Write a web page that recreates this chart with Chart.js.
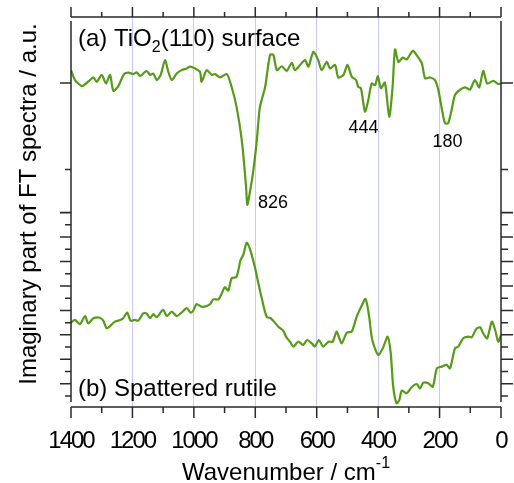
<!DOCTYPE html>
<html>
<head>
<meta charset="utf-8">
<script src="https://cdn.jsdelivr.net/npm/chart.js@4"></script>
<style>
  html, body { margin: 0; padding: 0; background: #fff; }
</style>
</head>
<body>
<canvas id="chart" width="514" height="483"></canvas>
<script>
// (a) TiO2(110) surface - wavenumber / value (a.u., 0 = baseline)
const waveA = [1400,1387,1365,1351,1338,1327,1316,1300,1286,1273,1262,1246,1227,1213,1197,1186,1175,1154,1143,1132,
  1121,1108,1094,1083,1072,1056,1040,1023,1013,996,980,975,958,942,931,915,893,877,861,844,
  830,826,817,806,795,785,768,752,741,730,714,698,681,671,654,638,627,611,595,584,
  567,557,540,530,513,500,486,472,465,456,443,432,421,410,401,391,378,364,353,345,
  334,320,307,287,275,258,247,231,215,204,190,182,172,161,150,134,117,101,85,71,
  58,45,25,9,0];
const valA = [0.30,0.07,-0.07,-0.01,0.07,0.13,0.03,0.19,-0.01,0.19,-0.18,-0.07,0.21,0.24,0.21,0.25,0.16,0.28,0.19,0.22,
  0.07,0.19,0.53,0.26,0.07,0.22,0.30,0.34,0.38,0.34,0.26,0.03,0.30,0.19,0.21,0.13,0.21,-0.09,-0.55,-1.32,
  -2.40,-2.82,-2.50,-2.01,-1.32,-0.56,-0.09,0.65,0.65,0.30,0.39,0.28,0.47,0.30,0.42,0.53,0.38,0.72,0.53,0.30,
  0.49,0.34,0.42,0.13,0.19,0.42,0.15,0.07,-0.09,-0.12,-0.66,-0.39,-0.01,-0.05,0.16,-0.12,0.01,-0.78,-0.09,0.78,
  0.49,0.59,0.55,0.75,0.65,0.46,0.11,0.13,0.07,-0.16,-0.70,-0.93,-0.93,-0.63,-0.28,-0.16,-0.10,-0.15,0.07,-0.10,
  0.28,-0.01,0.05,-0.02,-0.01];

// (b) Spattered rutile
const waveB = [1400,1387,1371,1354,1344,1327,1306,1295,1284,1273,1257,1240,1230,1217,1206,1192,1181,1165,1154,1143,
  1132,1121,1100,1088,1072,1056,1040,1023,1010,1002,991,975,958,947,937,920,909,899,888,877,
  861,848,839,828,817,801,790,779,763,750,736,725,709,700,687,676,660,644,631,616,
  606,593,579,562,548,535,519,502,486,470,454,441,430,419,400,385,369,359,351,340,
  331,323,307,291,274,264,253,237,222,209,193,177,166,150,139,123,106,95,81,68,
  58,45,30,19,9,0];
const valB = [3.50,3.61,3.44,3.77,3.47,3.68,3.70,3.58,3.27,3.36,3.54,3.61,3.68,3.91,3.58,3.61,3.58,3.88,3.88,3.68,
  3.85,3.72,4.02,3.77,3.95,3.77,3.91,4.09,3.91,3.99,4.26,4.15,4.18,4.26,4.45,4.45,4.70,4.95,4.81,5.31,
  5.38,6.06,6.27,6.77,6.50,5.75,5.11,4.50,3.74,3.68,3.50,3.33,3.17,2.93,2.72,2.52,2.72,2.59,2.79,2.65,
  2.52,2.79,2.52,2.72,2.72,3.13,2.65,3.09,3.13,3.74,4.18,4.47,3.81,2.79,2.18,2.45,2.93,2.25,0.88,0.20,
  0.34,0.72,0.61,0.86,0.99,0.81,1.04,1.02,0.88,1.63,1.70,1.77,1.63,2.45,2.52,2.86,2.93,2.90,3.23,3.31,
  3.06,2.86,3.54,3.20,2.72,2.99];

// axis ticks
const xMajorTicks = [0, 200, 400, 600, 800, 1000, 1200, 1400];
const xMinorTicks = [100, 300, 500, 700, 900, 1100, 1300];
const yAMajorTicks = [0, -3];
const yAMinorTicks = [-2];
const yBMajorTicks = [1, 2, 3, 4, 5, 6, 7, 8];
const yBMinorTicks = [0.5, 1.5, 2.5, 3.5, 4.5, 5.5, 6.5, 7.5];

// peak labels (placed on spectrum a)
const peakLabels = [
  { text: '826', x: 791, y: -2.89, align: 'left' },
  { text: '444', x: 448, y: -1.16, align: 'center' },
  { text: '180', x: 174, y: -1.48, align: 'center' }
];

const lineColor = '#559b17';
const axisColor = '#2a2a2a';
const gridColor = 'rgb(200, 200, 250)';
const fontFamily = '"Liberation Sans", Arial, sans-serif';
const yTitle = 'Imaginary part of FT spectra / a.u.';

const framePlugin = {
  id: 'frame',
  beforeDraw(chart) {
    // tick digits in the original are tightly set
    chart.ctx.letterSpacing = '-2px';
  },
  beforeDatasetsDraw(chart) {
    chart.ctx.letterSpacing = '0px';
  },
  afterDraw(chart) {
    const { ctx, chartArea: a, scales } = chart;
    const x = scales.x, yA = scales.yA, yB = scales.yB;
    ctx.save();
    ctx.letterSpacing = '0px';
    ctx.strokeStyle = axisColor;
    ctx.lineWidth = 1.5;
    ctx.beginPath();
    // frame - side axes stop a little short of the corners
    ctx.moveTo(a.left, a.top); ctx.lineTo(a.right, a.top);
    ctx.moveTo(a.left, a.bottom); ctx.lineTo(a.right, a.bottom);
    ctx.moveTo(a.left, a.top + 4); ctx.lineTo(a.left, a.bottom - 5);
    ctx.moveTo(a.right, a.top + 4); ctx.lineTo(a.right, a.bottom - 5);

    const xTick = (v, len) => {
      const p = x.getPixelForValue(v);
      ctx.moveTo(p, a.bottom); ctx.lineTo(p, a.bottom + len + 1);
      ctx.moveTo(p, a.top); ctx.lineTo(p, a.top - len);
    };
    xMajorTicks.forEach(v => xTick(v, 10));
    xMinorTicks.forEach(v => xTick(v, 5));

    const yTick = (scale, v, len) => {
      const p = scale.getPixelForValue(v);
      ctx.moveTo(a.left, p); ctx.lineTo(a.left - len, p);
      ctx.moveTo(a.right, p); ctx.lineTo(a.right + len + 1, p);
    };
    yAMajorTicks.forEach(v => yTick(yA, v, 11));
    yAMinorTicks.forEach(v => yTick(yA, v, 6));
    yBMajorTicks.forEach(v => yTick(yB, v, 11));
    yBMinorTicks.forEach(v => yTick(yB, v, 6));
    ctx.stroke();

    // panel captions
    ctx.fillStyle = '#000';
    ctx.textBaseline = 'alphabetic';
    ctx.textAlign = 'left';
    const big = '24px ' + fontFamily, small = '16px ' + fontFamily;
    let cx = a.left + 7, cy = a.top + 29;
    ctx.font = big;
    ctx.fillText('(a) TiO', cx, cy);
    cx += ctx.measureText('(a) TiO').width;
    ctx.font = small;
    ctx.fillText('2', cx, cy + 6);
    cx += ctx.measureText('2').width;
    ctx.font = big;
    ctx.fillText('(110) surface', cx, cy);
    ctx.fillText('(b) Spattered rutile', a.left + 7, a.bottom - 11);

    // peak positions
    ctx.font = '18px ' + fontFamily;
    peakLabels.forEach(l => {
      ctx.textAlign = l.align;
      ctx.fillText(l.text, x.getPixelForValue(l.x), yA.getPixelForValue(l.y));
    });

    // x axis title with superscript
    ctx.textAlign = 'left';
    ctx.font = big;
    const main = 'Wavenumber / cm';
    const wMain = ctx.measureText(main).width;
    ctx.font = small;
    const wSup = ctx.measureText('-1').width;
    const tx = (a.left + a.right) / 2 - (wMain + wSup) / 2;
    ctx.font = big;
    ctx.fillText(main, tx, 480);
    ctx.font = small;
    ctx.fillText('-1', tx + wMain, 468);

    // y axis title
    ctx.font = big;
    ctx.textAlign = 'center';
    ctx.translate(36, 204);
    ctx.rotate(-Math.PI / 2);
    ctx.fillText(yTitle, 0, 0);
    ctx.restore();
  }
};

new Chart(document.getElementById('chart'), {
  type: 'line',
  data: {
    datasets: [
      {
        data: waveA.map((w, i) => ({ x: w, y: valA[i] })),
        yAxisID: 'yA',
        borderColor: lineColor,
        borderWidth: 2.2,
        pointRadius: 0,
        tension: 0.25,
        fill: false
      },
      {
        data: waveB.map((w, i) => ({ x: w, y: valB[i] })),
        yAxisID: 'yB',
        borderColor: lineColor,
        borderWidth: 2.2,
        pointRadius: 0,
        tension: 0.25,
        fill: false
      }
    ]
  },
  options: {
    responsive: false,
    animation: false,
    layout: { padding: { top: 17, right: 13, left: 0, bottom: 0 } },
    plugins: { legend: { display: false }, tooltip: { enabled: false } },
    scales: {
      x: {
        type: 'linear',
        position: 'bottom',
        reverse: true,
        min: 0,
        max: 1400,
        afterBuildTicks: s => { s.ticks = xMajorTicks.map(v => ({ value: v })); },
        afterFit: s => { s.height = 76; },
        ticks: {
          font: { family: fontFamily, size: 24 },
          color: '#000',
          padding: 20,
          maxRotation: 0,
          autoSkip: false,
          callback: v => String(v)
        },
        grid: {
          color: c => (c.tick && (c.tick.value === 0 || c.tick.value === 1400)) ? 'rgba(0,0,0,0)' : gridColor,
          lineWidth: 1,
          drawTicks: false
        },
        border: { display: false }
      },
      yA: {
        position: 'left',
        min: -7.5,
        max: 1.53,
        afterFit: s => { s.width = 71; },
        ticks: { display: false },
        grid: { display: false },
        border: { display: false }
      },
      yB: {
        display: false,
        min: 0.05,
        max: 16
      }
    }
  },
  plugins: [framePlugin]
});
</script>
</body>
</html>
